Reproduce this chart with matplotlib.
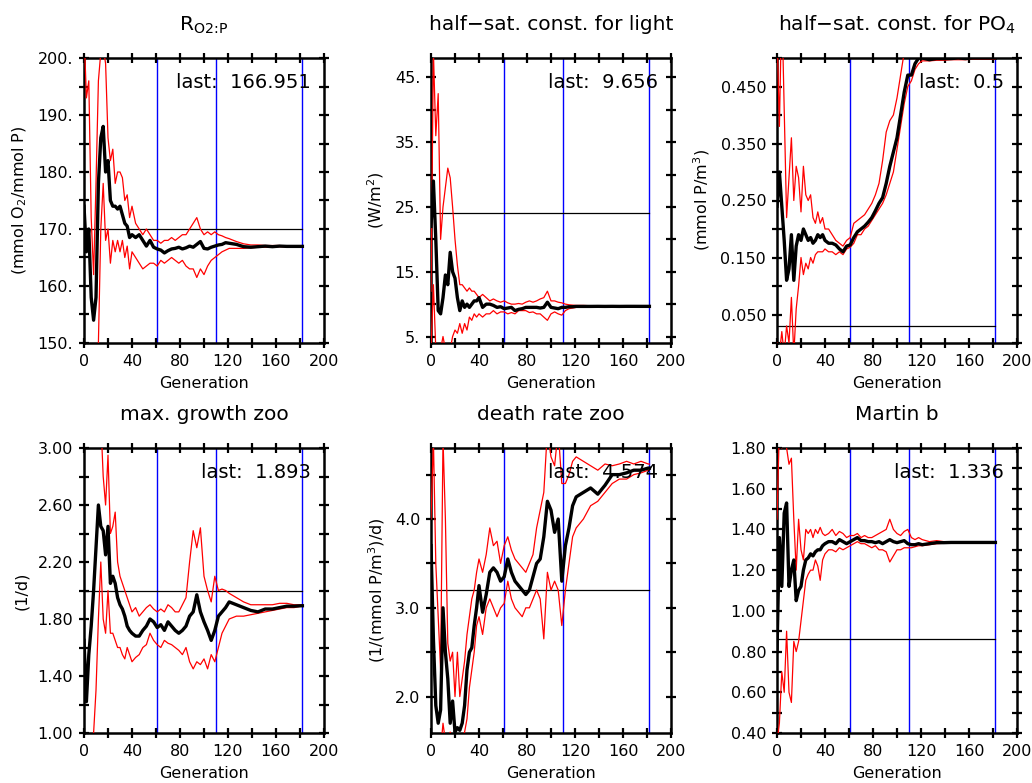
import matplotlib
matplotlib.use("Agg")
import matplotlib.pyplot as plt
from matplotlib.ticker import MultipleLocator, FormatStrFormatter

# generation grid (dense early, sparse late)
GEN = [0, 2, 4, 6, 8, 10, 12, 14, 16, 18, 20, 22, 24, 26, 28, 30, 32, 34, 36, 38, 40,
       43, 46, 49, 52, 55, 58, 61, 64, 67, 70, 73, 76, 79, 82, 85, 88, 91, 94, 97, 100,
       103, 106, 109, 112, 115, 118, 121,
       127, 133, 139, 145, 151, 157, 163, 169, 175, 181, 182]

STAGE_GEN = [61, 110, 182]

TITLES = [r"R$_{\rm O2\!:\!P}$", "half\u2212sat. const. for light",
          r"half$-$sat. const. for PO$_4$", "max. growth zoo", "death rate zoo", "Martin b"]
YLABELS = [r"(mmol O$_2$/mmol P)", r"(W/m$^2$)", r"(mmol P/m$^3$)", "(1/d)",
           r"(1/(mmol P/m$^3$)/d)", ""]
REF = [170.0, 24.0, 0.03, 2.0, 3.2, 0.86]
LAST = ["166.951", "9.656", "0.5", "1.893", "4.574", "1.336"]

# R O2:P
MEAN_R = [174, 166, 170, 158, 154, 158, 178, 186, 188, 180, 182, 175, 174, 174, 173.5, 174, 172.5, 171, 170.5, 168.5, 169,
          168.5, 169, 168, 167, 168, 166.8, 166.5, 166.3, 165.8, 166.2, 166.5, 166.6, 166.8, 166.5, 166.7, 167, 166.8, 167.3,
          167.8, 166.6, 166.5, 166.8, 167, 167.2, 167.3, 167.6, 167.5,
          167.3, 166.9, 166.8, 166.9, 167.0, 166.9, 167.0, 166.95, 166.95, 166.95, 166.951]
UP_R = [205, 193, 196, 172, 162, 178, 196, 201, 202, 199, 186, 182, 184, 178, 180, 180, 179, 175, 176, 172, 174,
        171, 170, 169, 170, 169, 168, 168, 167.5, 168, 168, 168.5, 168, 168.5, 169, 169, 170, 171, 172, 170, 169,
        169.5, 169, 169.5, 169, 168.8, 168.5, 168.3,
        167.8, 167.4, 167.2, 167.2, 167.1, 167.1, 167.1, 167.0, 167.0, 167.0, 167.0]
LO_R = [146, 144, 146, 140, 140, 145, 150, 170, 178, 168, 170, 164, 168, 166, 168, 166, 168, 165, 167, 163, 166,
        165, 164, 163, 163.5, 164, 164, 163.5, 164.5, 164, 164.5, 165, 164.5, 164, 164.5, 163.5, 163, 163, 161.5, 163, 162,
        163.5, 164.5, 165, 165.5, 166, 166.3, 166.6,
        166.6, 166.6, 166.7, 166.8, 166.8, 166.8, 166.9, 166.9, 166.9, 166.9, 166.9]

# half-sat light
MEAN_L = [22, 29, 20, 9, 8.5, 11, 14.5, 13, 18, 15, 14, 11, 9, 10.5, 9.5, 10, 9.5, 10, 10.5, 10.5, 11,
          9.5, 10, 10, 9.8, 9.5, 9.6, 9.3, 9.4, 9.5, 9.0, 9.2, 9.3, 9.5, 9.5, 9.5, 9.5, 9.4, 9.5, 10.3, 9.5,
          9.4, 9.3, 9.5, 9.5, 9.6, 9.6, 9.65,
          9.65, 9.65, 9.66, 9.65, 9.66, 9.65, 9.66, 9.66, 9.656, 9.656, 9.656]
UP_L = [12, 49, 36, 42.5, 20, 25, 28, 31, 29.5, 25, 20, 16, 13, 13, 12.5, 12, 12.5, 12, 12, 11.5, 11,
        11.5, 11, 10.5, 10.8, 10.5, 10.3, 10.5, 10.2, 10, 10, 10.1, 10, 10.3, 10.5, 10.3, 10.5, 10.8, 11, 12, 10.5,
        10.5, 10.3, 10.2, 10, 9.9, 9.85, 9.8,
        9.8, 9.75, 9.72, 9.7, 9.7, 9.7, 9.7, 9.68, 9.68, 9.68, 9.68]
LO_L = [3, 13, 3, 2, 3, 5, 3, 2, 3, 5, 6, 5.5, 7, 5.5, 7, 6, 8, 7.5, 8.5, 8, 8.5,
        8, 8.5, 8.5, 9, 8.5, 8.8, 8.8, 8.5, 8.7, 8.5, 9, 9, 9, 8.7, 8.8, 8.5, 8.5, 8.0, 7.5, 8.5,
        8.8, 8.5, 8.3, 9, 9.3, 9.4, 9.5,
        9.55, 9.58, 9.6, 9.62, 9.62, 9.63, 9.63, 9.64, 9.64, 9.64, 9.64]

# half-sat PO4
MEAN_P = [0.24, 0.3, 0.24, 0.18, 0.11, 0.13, 0.19, 0.11, 0.17, 0.19, 0.18, 0.2, 0.19, 0.18, 0.185, 0.175, 0.18, 0.19, 0.185, 0.19, 0.18,
          0.175, 0.175, 0.172, 0.165, 0.16, 0.17, 0.172, 0.185, 0.195, 0.2, 0.205, 0.212, 0.22, 0.232, 0.245, 0.255, 0.28, 0.31,
          0.335, 0.36, 0.4, 0.44, 0.47, 0.47, 0.49, 0.5, 0.5,
          0.497, 0.499, 0.499, 0.499, 0.5, 0.499, 0.5, 0.5, 0.5, 0.5, 0.5]
UP_P = [0.55, 0.38, 0.6, 0.41, 0.22, 0.29, 0.36, 0.25, 0.31, 0.29, 0.23, 0.31, 0.26, 0.25, 0.26, 0.22, 0.21, 0.23, 0.21, 0.22, 0.2,
        0.2, 0.19, 0.18, 0.175, 0.17, 0.18, 0.185, 0.21, 0.215, 0.22, 0.225, 0.235, 0.245, 0.26, 0.28, 0.32, 0.37, 0.39,
        0.4, 0.43, 0.47, 0.51, 0.52, 0.51, 0.505, 0.5, 0.5,
        0.5, 0.5, 0.5, 0.5, 0.5, 0.5, 0.5, 0.5, 0.5, 0.5, 0.5]
LO_P = [0.0, -0.02, 0.02, -0.02, 0.03, 0.0, 0.08, -0.02, 0.06, 0.1, 0.15, 0.12, 0.14, 0.13, 0.15, 0.14, 0.155, 0.16, 0.16, 0.16, 0.165,
        0.16, 0.16, 0.155, 0.16, 0.155, 0.165, 0.168, 0.175, 0.19, 0.19, 0.2, 0.205, 0.215, 0.225, 0.235, 0.245, 0.26, 0.28,
        0.3, 0.34, 0.38, 0.42, 0.45, 0.46, 0.48, 0.49, 0.495,
        0.495, 0.496, 0.496, 0.497, 0.497, 0.497, 0.498, 0.498, 0.498, 0.498, 0.498]

# max. growth zoo
MEAN_G = [1.65, 1.22, 1.55, 1.75, 2.0, 2.3, 2.6, 2.45, 2.42, 2.25, 2.45, 2.05, 2.1, 2.05, 1.95, 1.9, 1.87, 1.82, 1.75, 1.72, 1.7,
          1.68, 1.68, 1.72, 1.75, 1.8, 1.78, 1.74, 1.76, 1.72, 1.78, 1.75, 1.72, 1.7, 1.72, 1.75, 1.82, 1.85, 1.97, 1.85, 1.78,
          1.72, 1.65, 1.72, 1.82, 1.85, 1.88, 1.92,
          1.9, 1.88, 1.86, 1.85, 1.87, 1.87, 1.88, 1.89, 1.89, 1.893, 1.893]
UP_G = [3.1, 3.2, 3.3, 3.2, 3.05, 3.3, 3.4, 3.2, 2.8, 2.6, 2.95, 2.4, 2.45, 2.55, 2.2, 2.1, 2.05, 2.0, 1.95, 1.9, 1.85,
        1.88, 1.82, 1.85, 1.88, 1.9, 1.87, 1.85, 1.87, 1.85, 1.9, 1.88, 1.85, 1.85, 1.9, 1.95, 2.2, 2.42, 2.3, 2.44, 2.1,
        2.0, 1.92, 2.1, 2.0, 2.01, 2.0, 1.98,
        1.95, 1.92, 1.9, 1.9, 1.9, 1.9, 1.91, 1.91, 1.9, 1.9, 1.9]
LO_G = [0.9, 0.8, 0.9, 0.95, 1.0, 1.3, 1.8, 2.2, 1.8, 1.7, 2.0, 1.7, 1.7, 1.65, 1.6, 1.6, 1.55, 1.52, 1.6, 1.55, 1.5,
        1.53, 1.55, 1.6, 1.62, 1.7, 1.65, 1.62, 1.6, 1.65, 1.63, 1.62, 1.6, 1.58, 1.55, 1.6, 1.5, 1.45, 1.5, 1.48, 1.52,
        1.45, 1.55, 1.5, 1.6, 1.7, 1.75, 1.8,
        1.82, 1.82, 1.83, 1.84, 1.85, 1.86, 1.87, 1.88, 1.88, 1.89, 1.89]

# death rate zoo
MEAN_D = [3.7, 2.65, 1.9, 1.7, 1.85, 3.0, 2.5, 2.2, 1.7, 1.95, 1.6, 1.65, 1.62, 1.7, 1.9, 2.3, 2.5, 2.55, 2.8, 3.0, 3.25,
          2.95, 3.15, 3.4, 3.45, 3.4, 3.3, 3.35, 3.55, 3.4, 3.3, 3.25, 3.2, 3.15, 3.2, 3.35, 3.5, 3.55, 3.8, 4.2, 4.1,
          3.85, 4.0, 3.3, 3.7, 3.9, 4.15, 4.25,
          4.3, 4.35, 4.28, 4.38, 4.5, 4.5, 4.52, 4.55, 4.55, 4.574, 4.574]
UP_D = [4.0, 4.9, 3.5, 2.9, 2.3, 4.9, 4.0, 2.6, 2.4, 2.5, 2.0, 2.5, 2.0, 2.2, 2.4, 2.7, 2.9, 3.1, 3.2, 3.4, 3.55,
        3.4, 3.6, 3.9, 3.7, 3.75, 3.5, 3.7, 3.8, 3.65, 3.55, 3.5, 3.45, 3.4, 3.5, 3.6, 3.9, 4.1, 4.3, 5.0, 4.7,
        4.6, 5.0, 4.4, 4.4, 4.5, 4.65, 4.7,
        4.65, 4.6, 4.55, 4.62, 4.6, 4.62, 4.65, 4.62, 4.65, 4.62, 4.62]
LO_D = [1.5, 1.5, 1.5, 1.55, 1.4, 1.7, 1.5, 1.5, 1.6, 1.5, 1.5, 1.5, 1.5, 1.55, 1.6, 1.75, 2.1, 2.3, 2.5, 2.8, 2.9,
        2.7, 3.0, 3.1, 3.0, 2.9, 3.0, 3.05, 3.3, 3.1, 3.0, 2.95, 2.9, 3.0, 3.0, 3.1, 3.2, 3.1, 2.65, 3.4, 3.2,
        3.3, 3.2, 2.8, 3.2, 3.5, 3.8, 3.9,
        4.0, 4.15, 4.2, 4.3, 4.4, 4.45, 4.45, 4.5, 4.52, 4.55, 4.55]

# Martin b
MEAN_B = [0.8, 1.36, 1.12, 1.48, 1.53, 1.12, 1.2, 1.25, 1.05, 1.1, 1.12, 1.2, 1.25, 1.26, 1.28, 1.27, 1.29, 1.3, 1.3, 1.32, 1.33,
          1.34, 1.34, 1.33, 1.35, 1.34, 1.33, 1.34, 1.35, 1.36, 1.345, 1.345, 1.34, 1.34, 1.335, 1.34, 1.33, 1.34, 1.35, 1.34,
          1.335, 1.34, 1.345, 1.33, 1.325, 1.325, 1.33, 1.325,
          1.33, 1.335, 1.335, 1.336, 1.336, 1.336, 1.336, 1.336, 1.336, 1.336, 1.336]
UP_B = [1.45, 1.9, 1.8, 1.85, 1.8, 1.72, 1.75, 1.45, 1.2, 1.45, 1.3, 1.25, 1.4, 1.38, 1.4, 1.36, 1.4, 1.38, 1.41, 1.38, 1.37,
        1.38, 1.4, 1.37, 1.39, 1.38, 1.36, 1.37, 1.37, 1.38, 1.36, 1.37, 1.36, 1.36, 1.37, 1.38, 1.39, 1.4, 1.45, 1.4, 1.38,
        1.37, 1.39, 1.4, 1.36, 1.35, 1.36, 1.35,
        1.34, 1.345, 1.34, 1.34, 1.34, 1.339, 1.338, 1.338, 1.338, 1.338, 1.338]
LO_B = [0.35, 0.45, 0.7, 0.6, 0.9, 0.6, 0.55, 0.85, 0.8, 0.85, 0.95, 1.05, 1.15, 1.18, 1.2, 1.2, 1.25, 1.22, 1.15, 1.25, 1.28,
        1.3, 1.3, 1.29, 1.31, 1.3, 1.31, 1.32, 1.33, 1.34, 1.33, 1.33, 1.32, 1.31, 1.32, 1.3, 1.3, 1.29, 1.24, 1.27, 1.3,
        1.3, 1.31, 1.31, 1.31, 1.315, 1.32, 1.32,
        1.325, 1.33, 1.332, 1.333, 1.334, 1.334, 1.334, 1.334, 1.334, 1.334, 1.334]

MEANS = [MEAN_R, MEAN_L, MEAN_P, MEAN_G, MEAN_D, MEAN_B]
UPPERS = [UP_R, UP_L, UP_P, UP_G, UP_D, UP_B]
LOWERS = [LO_R, LO_L, LO_P, LO_G, LO_D, LO_B]

# axis settings: ylim, major step, minor step, major offset, tick format
YLIMS = [(150, 200), (4.0, 48.0), (0.0, 0.5), (1.0, 3.0), (1.59, 4.8), (0.4, 1.8)]
YMAJOR = [10, 10, 0.1, 0.4, 1.0, 0.2]
YMINOR = [5, 5, 0.05, 0.2, 0.5, 0.1]
YOFFSET = [0, 5, 0.05, 0.2, 0, 0]
YFMT = ["%d.", "%d.", "%.3f", "%.2f", "%.1f", "%.2f"]

fig = plt.figure(figsize=(10.32, 7.83), dpi=100, facecolor="white")
lefts = [84, 431, 777]
tops = [58, 448]
W, H = 240, 285

for i in range(6):
    row, col = divmod(i, 3)
    ax = fig.add_axes([lefts[col] / 1032, 1 - (tops[row] + H) / 783, W / 1032, H / 783])

    for g in STAGE_GEN:
        ax.axvline(g, color="#0000ff", lw=1.0, zorder=1)
    ax.plot([GEN[0], GEN[-1]], [REF[i], REF[i]], color="black", lw=0.9, zorder=2)
    ax.plot(GEN, UPPERS[i], color="#ff0000", lw=0.9, zorder=3)
    ax.plot(GEN, LOWERS[i], color="#ff0000", lw=0.9, zorder=3)
    ax.plot(GEN, MEANS[i], color="black", lw=2.4, zorder=4)

    ax.set_xlim(0, 200)
    ax.set_ylim(*YLIMS[i])
    ax.xaxis.set_major_locator(MultipleLocator(40))
    ax.xaxis.set_minor_locator(MultipleLocator(20))
    ax.yaxis.set_major_locator(MultipleLocator(YMAJOR[i], offset=YOFFSET[i]))
    ax.yaxis.set_minor_locator(MultipleLocator(YMINOR[i]))
    ax.yaxis.set_major_formatter(FormatStrFormatter(YFMT[i]))
    ax.tick_params(which="both", direction="inout", length=7.5, width=1.6,
                   top=True, right=True, labelsize=11.5, pad=4)
    for s in ax.spines.values():
        s.set_linewidth(1.8)

    ax.set_xlabel("Generation", fontsize=11.5, labelpad=5)
    if YLABELS[i]:
        ax.set_ylabel(YLABELS[i], fontsize=11.5, labelpad=6)
    ax.set_title(TITLES[i], fontsize=14.5, pad=20)
    ax.text(0.945, 0.915, "last:  " + LAST[i], transform=ax.transAxes,
            ha="right", va="center", fontsize=14, zorder=5)

fig.savefig("out.png", dpi=100)
